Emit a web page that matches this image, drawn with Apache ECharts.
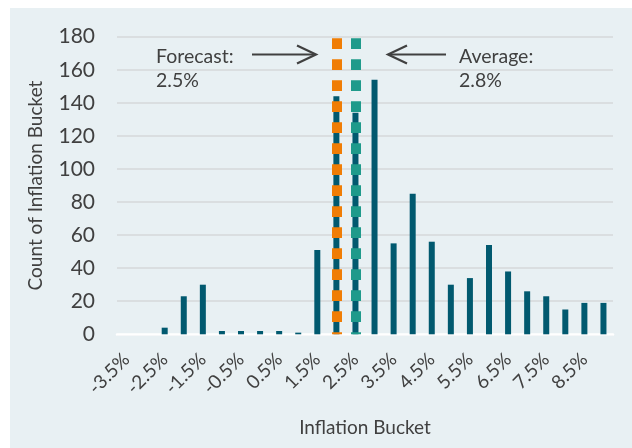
<!DOCTYPE html>
<html><head><meta charset="utf-8">
<script src="https://cdn.jsdelivr.net/npm/echarts@6/dist/echarts.min.js"></script>
<style>html,body{margin:0;padding:0;background:#fff}#c{width:632px;height:448px}</style>
</head><body><div id="c"></div>
<script>
const categories = ['-3.5%','-3.0%','-2.5%','-2.0%','-1.5%','-1.0%','-0.5%','0.0%','0.5%','1.0%','1.5%','2.0%','2.5%','3.0%','3.5%','4.0%','4.5%','5.0%','5.5%','6.0%','6.5%','7.0%','7.5%','8.0%','8.5%','9.0%'];
const counts = [0,0,4,23,30,2,2,2,2,1,51,144,134,154,55,85,56,30,34,54,38,26,23,15,19,19];
const forecastCat = '2.0%';
const averageCat = '2.5%';
const yMax = 180;
const yInterval = 20;

const chart = echarts.init(document.getElementById('c'));
const FONT = 'Lato';
chart.setOption({
  backgroundColor: '#fff',
  animation: false,
  graphic: [
    {type:'rect', z:-10, shape:{x:10,y:8,width:622,height:440}, style:{fill:'#E8F0F3'}},
    {type:'text', left:156, top:45, style:{text:'Forecast:\n2.5%', font:'19.5px Lato', fill:'#404040', lineHeight:24}},
    {type:'text', left:459, top:45, style:{text:'Average:\n2.8%', font:'19.5px Lato', fill:'#404040', lineHeight:24}},
    {type:'line', shape:{x1:252,y1:54.5,x2:315,y2:54.5}, style:{stroke:'#404040', lineWidth:2.2}},
    {type:'polyline', shape:{points:[[297,45.5],[316,54.5],[297,63.5]]}, style:{stroke:'#404040', lineWidth:2.2, fill:null}},
    {type:'line', shape:{x1:446,y1:54.5,x2:389,y2:54.5}, style:{stroke:'#404040', lineWidth:2.2}},
    {type:'polyline', shape:{points:[[407,45.5],[388,54.5],[407,63.5]]}, style:{stroke:'#404040', lineWidth:2.2, fill:null}}
  ],
  grid: {left:117, right:19, top:36.7, bottom:113.7},
  xAxis: {
    type:'category', data: categories,
    name:'Inflation Bucket', nameLocation:'middle', nameGap:84,
    nameTextStyle:{fontFamily:FONT, fontSize:19, color:'#404040'},
    axisLine:{lineStyle:{color:'#ffffff', width:2.5}},
    axisTick:{show:false},
    axisLabel:{interval:1, rotate:45, margin:22, fontFamily:FONT, fontSize:19, color:'#404040'}
  },
  yAxis: {
    type:'value', min:0, max:yMax, interval:yInterval,
    name:'Count of Inflation Bucket', nameLocation:'middle', nameGap:71.5,
    nameTextStyle:{fontFamily:FONT, fontSize:19, color:'#404040'},
    axisLabel:{margin:22, fontFamily:FONT, fontSize:21, color:'#404040'},
    splitLine:{lineStyle:{color:'#D6D9DA', width:1.5}}
  },
  series: [{
    type:'bar', data:counts, barWidth:6,
    itemStyle:{color:'#01596F'},
    markLine:{
      silent:true, symbol:['none','none'], label:{show:false},
      data:[
        [{coord:[forecastCat, yMax], lineStyle:{color:'#F07D05', width:10, type:[10.7,10.3], dashOffset:-1.5}}, {coord:[forecastCat, 0]}],
        [{coord:[averageCat, yMax], lineStyle:{color:'#1F9A8B', width:10, type:[10.7,10.3], dashOffset:-1.5}}, {coord:[averageCat, 0]}]
      ]
    }
  }]
});
</script></body></html>
